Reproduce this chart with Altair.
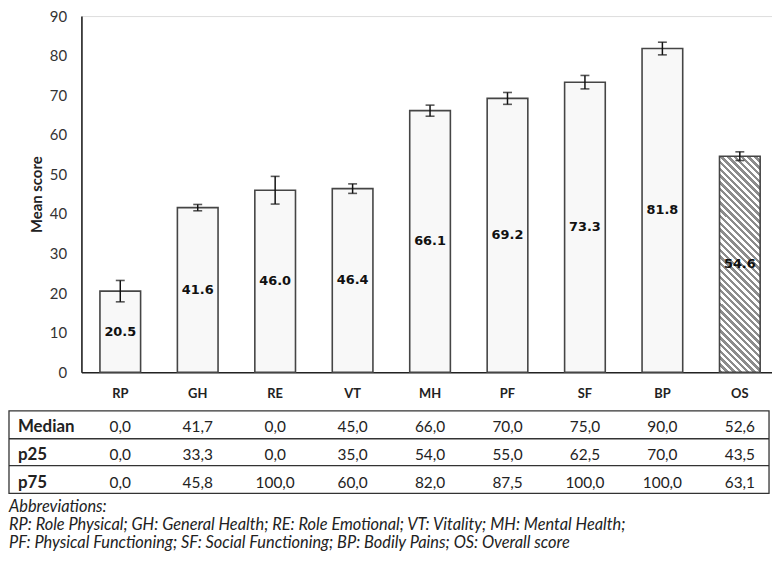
import altair as alt
import pandas as pd

# ---------------- data ----------------
cats = ["RP", "GH", "RE", "VT", "MH", "PF", "SF", "BP", "OS"]
means = [20.5, 41.6, 46.0, 46.4, 66.1, 69.2, 73.3, 81.8, 54.6]
errs = [2.7, 0.8, 3.5, 1.2, 1.4, 1.5, 1.7, 1.6, 1.1]
medians = [0.0, 41.7, 0.0, 45.0, 66.0, 70.0, 75.0, 90.0, 52.6]
p25s = [0.0, 33.3, 0.0, 35.0, 54.0, 55.0, 62.5, 70.0, 43.5]
p75s = [0.0, 45.8, 100.0, 60.0, 82.0, 87.5, 100.0, 100.0, 63.1]
y_ticks = [0, 10, 20, 30, 40, 50, 60, 70, 80, 90]
row_names = ["Median", "p25", "p75"]
abbrev_lines = [
    "Abbreviations:",
    "RP: Role Physical; GH: General Health; RE: Role Emotional; VT: Vitality; MH: Mental Health;",
    "PF: Physical Functioning; SF: Social Functioning; BP: Bodily Pains; OS: Overall score",
]

FONT = "Lato"
DARK = "#222222"

df = pd.DataFrame({"cat": cats, "mean": means, "err": errs})
df["lo"] = df["mean"] - df["err"]
df["hi"] = df["mean"] + df["err"]
df["mid"] = df["mean"] / 2
df["label"] = df["mean"].map(lambda v: f"{v:.1f}")

def fmt(v):
    return f"{v:.1f}".replace(".", ",")

# ---------------- scales / encodings ----------------
x_enc = alt.X(
    "cat:N",
    sort=cats,
    scale=alt.Scale(paddingInner=0.475, paddingOuter=0.196, align=0.61),
    axis=alt.Axis(
        title=None, labelFont=FONT, labelFontWeight="bold", labelFontSize=13,
        labelColor=DARK, labelPadding=15, ticks=False, labelAngle=0,
        domainColor=DARK, domainWidth=1.6,
    ),
)
y_axis = alt.Axis(
    values=y_ticks, title="Mean score", grid=False, ticks=False, labelOverlap=False,
    labelFont=FONT, labelFontSize=15, labelColor="#333333", labelPadding=15,
    titleFont=FONT, titleFontSize=15, titleFontWeight="bold", titleColor=DARK,
    titlePadding=5, domainColor=DARK, domainWidth=1.6,
)
y_scale = alt.Scale(domain=[0, 90])

def Y(field):
    return alt.Y(field, scale=y_scale, axis=y_axis)

base = alt.Chart(df)

bars = base.mark_bar(fill="#f8f8f8", stroke="#454545", strokeWidth=1.6).encode(
    x=x_enc, y=Y("mean:Q")
).transform_filter(alt.datum.cat != "OS")

# diagonal hatch for OS bar via hard-stop linear gradient
W, H, P = 41.0, 218.0, 6.8
L = W + H
s = L / (W * W + H * H)
stops = []
k = 0
while k * P < L:
    a = k * P / L
    b = min((k * P + P * 0.5) / L, 1.0)
    c = min((k + 1) * P / L, 1.0)
    stops += [
        alt.GradientStop(offset=a, color="#8c8c8c"),
        alt.GradientStop(offset=b, color="#8c8c8c"),
        alt.GradientStop(offset=b, color="#ffffff"),
        alt.GradientStop(offset=c, color="#ffffff"),
    ]
    k += 1
hatch = alt.LinearGradient(gradient="linear", stops=stops,
                           x1=0, y1=1, x2=s * W, y2=1 - s * H)

os_bar = base.mark_bar(fill=hatch, stroke="#454545", strokeWidth=1.6).encode(
    x=x_enc, y=Y("mean:Q")
).transform_filter(alt.datum.cat == "OS")

err_rule = base.mark_rule(color="#111111", strokeWidth=1.5).encode(
    x=x_enc, y=Y("lo:Q"), y2="hi:Q"
)
cap_lo = base.mark_tick(color="#111111", thickness=1.6, size=9).encode(
    x=x_enc, y=Y("lo:Q")
)
cap_hi = base.mark_tick(color="#111111", thickness=1.6, size=9).encode(
    x=x_enc, y=Y("hi:Q")
)
val_text = base.mark_text(font="DejaVu Sans", fontWeight="bold", fontSize=13,
                          color="#111111", baseline="middle").encode(
    x=x_enc, y=Y("mid:Q"), text="label:N"
)

# ---------------- table below the chart ----------------
TOP = 14  # page y of plot top
row_y = [428.5 - TOP, 456.5 - TOP, 484.5 - TOP]
borders_y = [412 - TOP, 440 - TOP, 467 - TOP, 495 - TOP]
X_LEFT, X_RIGHT = -73, 693

table_layers = []
for name, vals, yy in zip(row_names, [medians, p25s, p75s], row_y):
    tdf = pd.DataFrame({"cat": cats, "txt": [fmt(v) for v in vals]})
    table_layers.append(
        alt.Chart(tdf).mark_text(font=FONT, fontSize=15.5, color=DARK, baseline="middle").encode(
            x=x_enc, y=alt.value(yy), text="txt:N"
        )
    )
    table_layers.append(
        alt.Chart(pd.DataFrame({"t": [name]})).mark_text(
            font=FONT, fontSize=17, fontWeight="bold", color=DARK,
            align="left", baseline="middle"
        ).encode(x=alt.value(-64), y=alt.value(yy), text="t:N")
    )

one = pd.DataFrame({"a": [0]})
frame = alt.Chart(one).mark_rect(fill="#ffffff", fillOpacity=0, stroke="#333333", strokeWidth=1.3).encode(
    x=alt.value(X_LEFT), x2=alt.value(X_RIGHT), y=alt.value(borders_y[0]), y2=alt.value(borders_y[3])
)
sep_layers = [
    alt.Chart(one).mark_rule(color="#333333", strokeWidth=1.3).encode(
        x=alt.value(X_LEFT), x2=alt.value(X_RIGHT), y=alt.value(yy)
    )
    for yy in borders_y[1:3]
]

abbrev = alt.Chart(one).mark_text(
    font=FONT, fontStyle="italic", fontSize=16.5, color=DARK,
    align="left", baseline="top", lineHeight=18
).encode(x=alt.value(-73), y=alt.value(501 - TOP), text=alt.value(abbrev_lines))

chart = alt.layer(
    bars, os_bar, err_rule, cap_lo, cap_hi, val_text,
    frame, *sep_layers, *table_layers, abbrev
).properties(
    width=696, height=359,
    padding={"left": 74, "top": 6, "right": 0, "bottom": 180},
    autosize=alt.AutoSizeParams(type="none"),
).configure_view(stroke=None).configure(background="white")

chart.save("out.html", embed_options={"renderer": "svg", "actions": False})
